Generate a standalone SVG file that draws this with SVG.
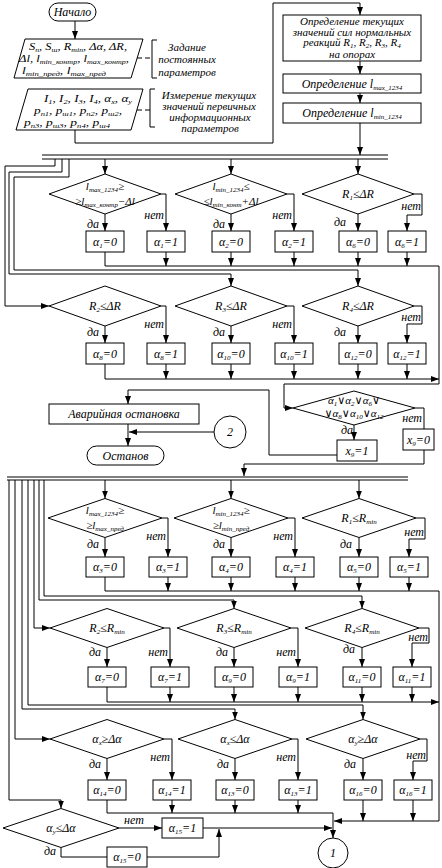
<svg xmlns="http://www.w3.org/2000/svg" width="442" height="868" viewBox="0 0 442 868">
<defs>
<marker id="a" viewBox="0 0 8 6" refX="8" refY="3" markerWidth="8" markerHeight="6" markerUnits="userSpaceOnUse" orient="auto"><path d="M0,0 L8,3 L0,6 z" fill="#000"/></marker>
<style>
.ln{fill:none;stroke:#000;stroke-width:1}
.ar{fill:none;stroke:#000;stroke-width:1;marker-end:url(#a)}
.dl{fill:none;stroke:#000;stroke-width:1;stroke-dasharray:5 3}
.bx{fill:#fff;stroke:#000;stroke-width:1}
text{font-family:"Liberation Serif","DejaVu Serif","Times New Roman",serif;font-style:italic;font-size:12px;fill:#000}
.c{text-anchor:middle}
.e{text-anchor:end}
.s{font-size:7px;baseline-shift:-1.5px}
.m{font-size:11px}
.n{font-size:11px}
</style>
</defs>
<rect width="442" height="868" fill="#fff"/>

<g id="connectors">
<path class="ar" d="M75,21 V39"/>
<path class="ar" d="M75,130 V143 H273 V3 H360 V15"/>
<path class="ar" d="M360,61 V74"/>
<path class="ar" d="M360,93 V103"/>
<path class="ar" d="M360,123 V155"/>
<path class="dl" d="M137,58 H152"/>
<path class="dl" d="M137,110 H150"/>
<path class="ln" d="M42,155 H388 M42,159 H388"/>
<path class="ar" d="M55,159 V166 H5 V306 H49"/>
<path class="ar" d="M62,159 V172 H9 V274 H231 V286"/>
<path class="ar" d="M69,159 V177 H14 V270 H358 V286"/>
<path class="ar" d="M105,159 V174"/>
<path class="ar" d="M231,159 V174"/>
<path class="ar" d="M358,159 V174"/>
<path class="ar" d="M105,214 V231"/>
<path class="ar" d="M161,194 H166 V231"/>
<path class="ar" d="M231,214 V231"/>
<path class="ar" d="M287,194 H294 V231"/>
<path class="ar" d="M358,214 V231"/>
<path class="ar" d="M414,194 H422 V215 H407 V231"/>
<path class="ar" d="M105,252 V266 H439 V384 H284 V408 H293"/>
<path class="ar" d="M166,252 V266"/>
<path class="ar" d="M231,252 V266"/>
<path class="ar" d="M294,252 V266"/>
<path class="ar" d="M358,252 V266"/>
<path class="ar" d="M407,252 V266"/>
<path class="ar" d="M105,326 V343"/>
<path class="ar" d="M161,306 H166 V343"/>
<path class="ar" d="M231,326 V343"/>
<path class="ar" d="M287,306 H294 V343"/>
<path class="ar" d="M358,326 V343"/>
<path class="ar" d="M414,306 H422 V324 H407 V343"/>
<path class="ar" d="M105,364 V379 H439"/>
<path class="ar" d="M166,364 V379"/>
<path class="ar" d="M231,364 V379"/>
<path class="ar" d="M294,364 V379"/>
<path class="ar" d="M358,364 V379"/>
<path class="ar" d="M407,364 V379"/>
<path class="ar" d="M354,425 V440"/>
<path class="ln" d="M415,408 H424 V429"/>
<path class="ar" d="M337,455 H269 V390 H128 V404"/>
<path class="ar" d="M128,424 V446"/>
<path class="ar" d="M214,432 H129"/>
<path class="ar" d="M424,450 V464 H244 V476"/>
<path class="ln" d="M7,477 H408 M7,480 H408"/>
<path class="ar" d="M105,480 V498.5"/>
<path class="ar" d="M231,480 V498.5"/>
<path class="ar" d="M359,480 V498.5"/>
<path class="ar" d="M44,480 V596 H362 V608.5"/>
<path class="ar" d="M39,480 V600 H234 V608.5"/>
<path class="ar" d="M34,480 V628 H50"/>
<path class="ar" d="M28,480 V705 H363 V719.5"/>
<path class="ar" d="M22,480 V709 H235 V719.5"/>
<path class="ar" d="M15,480 V739 H50"/>
<path class="ar" d="M9,480 V800 H61 V808.5"/>
<path class="ar" d="M105,537.5 V557"/>
<path class="ar" d="M162,518 H168 V557"/>
<path class="ar" d="M231,537.5 V557"/>
<path class="ar" d="M288,518 H295 V557"/>
<path class="ar" d="M359,537.5 V557"/>
<path class="ar" d="M416,518 H425 V539 H409 V557"/>
<path class="ar" d="M105,577 V591 H439 V821 H334"/>
<path class="ar" d="M168,577 V591"/>
<path class="ar" d="M231,577 V591"/>
<path class="ar" d="M295,577 V591"/>
<path class="ar" d="M359,577 V591"/>
<path class="ar" d="M409,577 V591"/>
<path class="ar" d="M107,647.5 V667"/>
<path class="ar" d="M164,628 H170 V667"/>
<path class="ar" d="M234,647.5 V667"/>
<path class="ar" d="M291,628 H298 V667"/>
<path class="ar" d="M362,647.5 V667"/>
<path class="ar" d="M419,628 H429 V643 H412 V667"/>
<path class="ar" d="M107,687 V702 H439"/>
<path class="ar" d="M170,687 V702"/>
<path class="ar" d="M234,687 V702"/>
<path class="ar" d="M298,687 V702"/>
<path class="ar" d="M362,687 V702"/>
<path class="ar" d="M412,687 V702"/>
<path class="ar" d="M107,758.5 V780"/>
<path class="ar" d="M164,739 H172 V780"/>
<path class="ar" d="M235,758.5 V780"/>
<path class="ar" d="M292,739 H298 V780"/>
<path class="ar" d="M363,758.5 V780"/>
<path class="ar" d="M420,739 H427 V761 H413 V780"/>
<path class="ar" d="M107,800 V813 H333 V838"/>
<path class="ar" d="M172,800 V813"/>
<path class="ar" d="M235,800 V813"/>
<path class="ar" d="M298,800 V813"/>
<path class="ar" d="M363,800 V821"/>
<path class="ar" d="M413,800 V821"/>
<path class="ar" d="M119,828 H162"/>
<path class="ln" d="M61,847.5 V857 H107"/>
<path class="ar" d="M203,828 H332"/>
<path class="ar" d="M147,857 H219 V829"/>
<text class="e" x="99" y="228">да</text><text class="e" x="225" y="228">да</text><text class="e" x="346" y="226">да</text>
<text class="e" x="164" y="219">нет</text><text class="e" x="292" y="219">нет</text><text class="e" x="421" y="210">нет</text>
<text class="e" x="99" y="336">да</text><text class="e" x="225" y="336">да</text><text class="e" x="346" y="336">да</text>
<text class="e" x="164" y="328">нет</text><text class="e" x="292" y="328">нет</text><text class="e" x="421" y="321">нет</text>
<text class="e" x="353" y="434">да</text><text class="e" x="422" y="422">нет</text>
<text class="e" x="99" y="548">да</text><text class="e" x="225" y="548">да</text><text class="e" x="352" y="548">да</text>
<text class="e" x="166" y="540">нет</text><text class="e" x="293" y="540">нет</text><text class="e" x="424" y="536">нет</text>
<text class="e" x="101" y="656">да</text><text class="e" x="228" y="656">да</text><text class="e" x="355" y="653">да</text>
<text class="e" x="168" y="656">нет</text><text class="e" x="296" y="656">нет</text><text class="e" x="428" y="641">нет</text>
<text class="e" x="101" y="768">да</text><text class="e" x="229" y="768">да</text><text class="e" x="356" y="768">да</text>
<text class="e" x="170" y="761">нет</text><text class="e" x="296" y="761">нет</text><text class="e" x="426" y="759">нет</text>
<text class="c" x="134" y="824">нет</text><text class="c" x="50" y="855">да</text>
</g>

<g id="start"><rect class="bx" x="49" y="3" width="47" height="18" rx="9"/><text class="c" x="72.5" y="16">Начало</text></g>
<g id="input-constants"><polygon class="bx" points="25,39 143,39 131,78 14,78"/>
<text class="c n" x="78" y="50" textLength="98" lengthAdjust="spacingAndGlyphs">S<tspan class="s">п</tspan>, S<tspan class="s">ш</tspan>, R<tspan class="s">min</tspan>, Δα, ΔR,</text>
<text class="c n" x="74" y="62" textLength="110" lengthAdjust="spacingAndGlyphs">Δl, l<tspan class="s">min_контр</tspan>, l<tspan class="s">max_контр</tspan>,</text>
<text class="c n" x="64" y="74" textLength="84" lengthAdjust="spacingAndGlyphs">l<tspan class="s">min_пред</tspan>, l<tspan class="s">max_пред</tspan></text></g>
<g id="note-constants"><path class="ln" d="M157,40 H152 V78 H157"/><text class="c n" x="187" y="50.5">Задание</text><text class="c n" x="187" y="63">постоянных</text><text class="c n" x="187" y="75.5">параметров</text></g>
<g id="input-measure"><polygon class="bx" points="28,89 143,89 131,130 16,130"/>
<text class="c n" x="88" y="102" textLength="88" lengthAdjust="spacingAndGlyphs">I<tspan class="s">1</tspan>, I<tspan class="s">2</tspan>, I<tspan class="s">3</tspan>, I<tspan class="s">4</tspan>, α<tspan class="s">x</tspan>, α<tspan class="s">y</tspan></text>
<text class="c n" x="78" y="114" textLength="88" lengthAdjust="spacingAndGlyphs">p<tspan class="s">п1</tspan>, p<tspan class="s">ш1</tspan>, p<tspan class="s">п2</tspan>, p<tspan class="s">ш2</tspan>,</text>
<text class="c n" x="67" y="126" textLength="86" lengthAdjust="spacingAndGlyphs">p<tspan class="s">п3</tspan>, p<tspan class="s">ш3</tspan>, p<tspan class="s">п4</tspan>, p<tspan class="s">ш4</tspan></text></g>
<g id="note-measure"><path class="ln" d="M155,89 H150 V127 H155"/><text class="c n" x="209" y="99">Измерение текущих</text><text class="c n" x="209" y="110">значений первичных</text><text class="c n" x="210" y="121">информационных</text><text class="c n" x="210" y="132">параметров</text></g>
<g id="calc-reactions"><rect class="bx" x="283" y="15" width="138" height="46"/>
<text class="c n" x="352" y="25">Определение текущих</text><text class="c n" x="352" y="35.5">значений сил нормальных</text>
<text class="c n" x="352" y="46">реакций R<tspan class="s">1</tspan>, R<tspan class="s">2</tspan>, R<tspan class="s">3</tspan>, R<tspan class="s">4</tspan></text><text class="c n" x="352" y="58">на опорах</text></g>
<g id="calc-lmax"><rect class="bx" x="283" y="74" width="138" height="19"/><text class="c" x="352" y="87.5">Определение l<tspan class="s">max_1234</tspan></text></g>
<g id="calc-lmin"><rect class="bx" x="283" y="103" width="138" height="20"/><text class="c" x="352" y="117">Определение l<tspan class="s">min_1234</tspan></text></g>

<g id="d-lmax-kontr"><polygon class="bx" points="49,194 105,174 161,194 105,214"/><text class="c m" x="105" y="190">l<tspan class="s">max_1234</tspan>≥</text><text class="c m" x="105" y="205">≥l<tspan class="s">max_контр</tspan>−Δl</text></g>
<g id="d-lmin-kontr"><polygon class="bx" points="175,194 231,174 287,194 231,214"/><text class="c m" x="231" y="190">l<tspan class="s">min_1234</tspan>≤</text><text class="c m" x="231" y="205">≤l<tspan class="s">min_конт</tspan>+Δl</text></g>
<g id="d-r1-dr"><polygon class="bx" points="302,194 358,174 414,194 358,214"/><text class="c" x="358" y="198">R<tspan class="s">1</tspan>≤ΔR</text></g>
<g id="b-a1-0"><rect class="bx" x="86" y="231" width="38" height="21"/><text class="c" x="105" y="245.5">α<tspan class="s">1</tspan>=0</text></g>
<g id="b-a1-1"><rect class="bx" x="147" y="231" width="38" height="21"/><text class="c" x="166" y="245.5">α<tspan class="s">1</tspan>=1</text></g>
<g id="b-a2-0"><rect class="bx" x="212" y="231" width="38" height="21"/><text class="c" x="231" y="245.5">α<tspan class="s">2</tspan>=0</text></g>
<g id="b-a2-1"><rect class="bx" x="275" y="231" width="38" height="21"/><text class="c" x="294" y="245.5">α<tspan class="s">2</tspan>=1</text></g>
<g id="b-a6-0"><rect class="bx" x="339" y="231" width="38" height="21"/><text class="c" x="358" y="245.5">α<tspan class="s">6</tspan>=0</text></g>
<g id="b-a6-1"><rect class="bx" x="388" y="231" width="38" height="21"/><text class="c" x="407" y="245.5">α<tspan class="s">6</tspan>=1</text></g>

<g id="d-r2-dr"><polygon class="bx" points="49,306 105,286 161,306 105,326"/><text class="c" x="105" y="310">R<tspan class="s">2</tspan>≤ΔR</text></g>
<g id="d-r3-dr"><polygon class="bx" points="175,306 231,286 287,306 231,326"/><text class="c" x="231" y="310">R<tspan class="s">3</tspan>≤ΔR</text></g>
<g id="d-r4-dr"><polygon class="bx" points="302,306 358,286 414,306 358,326"/><text class="c" x="358" y="310">R<tspan class="s">4</tspan>≤ΔR</text></g>
<g id="b-a8-0"><rect class="bx" x="86" y="343" width="38" height="21"/><text class="c" x="105" y="357.5">α<tspan class="s">8</tspan>=0</text></g>
<g id="b-a8-1"><rect class="bx" x="147" y="343" width="38" height="21"/><text class="c" x="166" y="357.5">α<tspan class="s">8</tspan>=1</text></g>
<g id="b-a10-0"><rect class="bx" x="212" y="343" width="38" height="21"/><text class="c" x="231" y="357.5">α<tspan class="s">10</tspan>=0</text></g>
<g id="b-a10-1"><rect class="bx" x="275" y="343" width="38" height="21"/><text class="c" x="294" y="357.5">α<tspan class="s">10</tspan>=1</text></g>
<g id="b-a12-0"><rect class="bx" x="339" y="343" width="38" height="21"/><text class="c" x="358" y="357.5">α<tspan class="s">12</tspan>=0</text></g>
<g id="b-a12-1"><rect class="bx" x="388" y="343" width="38" height="21"/><text class="c" x="407" y="357.5">α<tspan class="s">12</tspan>=1</text></g>

<g id="d-or"><polygon class="bx" points="293,408 354,391 415,408 354,425"/><text class="c m" x="354" y="403.5">α<tspan class="s">1</tspan>∨α<tspan class="s">2</tspan>∨α<tspan class="s">6</tspan>∨</text><text class="c m" x="354" y="416.5">∨α<tspan class="s">8</tspan>∨α<tspan class="s">10</tspan>∨α<tspan class="s">12</tspan></text></g>
<g id="b-x9-1"><rect class="bx" x="337" y="440" width="40" height="21"/><text class="c" x="357" y="454.5">x<tspan class="s">9</tspan>=1</text></g>
<g id="b-x9-0"><rect class="bx" x="403" y="429" width="31" height="21"/><text class="c" x="418.5" y="443.5">x<tspan class="s">9</tspan>=0</text></g>
<g id="alarm-stop"><rect class="bx" x="49" y="404" width="150" height="20"/><text class="c" x="124" y="418">Аварийная остановка</text></g>
<g id="connector-2"><circle class="bx" cx="230" cy="432" r="16"/><text class="c" x="230" y="436">2</text></g>
<g id="stop"><rect class="bx" x="87" y="446" width="77" height="19" rx="9.5"/><text class="c" x="125.5" y="460">Останов</text></g>

<g id="d-lmax-pred"><polygon class="bx" points="48,518 105,498.5 162,518 105,537.5"/><text class="c m" x="105" y="514">l<tspan class="s">max_1234</tspan>≥</text><text class="c m" x="105" y="529">≥l<tspan class="s">max_пред</tspan></text></g>
<g id="d-lmin-pred"><polygon class="bx" points="174,518 231,498.5 288,518 231,537.5"/><text class="c m" x="231" y="514">l<tspan class="s">min_1234</tspan>≥</text><text class="c m" x="231" y="529">≥l<tspan class="s">min_пред</tspan></text></g>
<g id="d-r1-rmin"><polygon class="bx" points="302,518 359,498.5 416,518 359,537.5"/><text class="c" x="359" y="522">R<tspan class="s">1</tspan>≤R<tspan class="s">min</tspan></text></g>
<g id="b-a3-0"><rect class="bx" x="86" y="557" width="38" height="20"/><text class="c" x="105" y="571">α<tspan class="s">3</tspan>=0</text></g>
<g id="b-a3-1"><rect class="bx" x="149" y="557" width="38" height="20"/><text class="c" x="168" y="571">α<tspan class="s">3</tspan>=1</text></g>
<g id="b-a4-0"><rect class="bx" x="212" y="557" width="38" height="20"/><text class="c" x="231" y="571">α<tspan class="s">4</tspan>=0</text></g>
<g id="b-a4-1"><rect class="bx" x="276" y="557" width="38" height="20"/><text class="c" x="295" y="571">α<tspan class="s">4</tspan>=1</text></g>
<g id="b-a5-0"><rect class="bx" x="340" y="557" width="38" height="20"/><text class="c" x="359" y="571">α<tspan class="s">5</tspan>=0</text></g>
<g id="b-a5-1"><rect class="bx" x="390" y="557" width="38" height="20"/><text class="c" x="409" y="571">α<tspan class="s">5</tspan>=1</text></g>

<g id="d-r2-rmin"><polygon class="bx" points="50,628 107,608.5 164,628 107,647.5"/><text class="c" x="107" y="632">R<tspan class="s">2</tspan>≤R<tspan class="s">min</tspan></text></g>
<g id="d-r3-rmin"><polygon class="bx" points="177,628 234,608.5 291,628 234,647.5"/><text class="c" x="234" y="632">R<tspan class="s">3</tspan>≤R<tspan class="s">min</tspan></text></g>
<g id="d-r4-rmin"><polygon class="bx" points="305,628 362,608.5 419,628 362,647.5"/><text class="c" x="362" y="632">R<tspan class="s">4</tspan>≤R<tspan class="s">min</tspan></text></g>
<g id="b-a7-0"><rect class="bx" x="88" y="667" width="38" height="20"/><text class="c" x="107" y="681">α<tspan class="s">7</tspan>=0</text></g>
<g id="b-a7-1"><rect class="bx" x="151" y="667" width="38" height="20"/><text class="c" x="170" y="681">α<tspan class="s">7</tspan>=1</text></g>
<g id="b-a9-0"><rect class="bx" x="215" y="667" width="38" height="20"/><text class="c" x="234" y="681">α<tspan class="s">9</tspan>=0</text></g>
<g id="b-a9-1"><rect class="bx" x="279" y="667" width="38" height="20"/><text class="c" x="298" y="681">α<tspan class="s">9</tspan>=1</text></g>
<g id="b-a11-0"><rect class="bx" x="343" y="667" width="38" height="20"/><text class="c" x="362" y="681">α<tspan class="s">11</tspan>=0</text></g>
<g id="b-a11-1"><rect class="bx" x="393" y="667" width="38" height="20"/><text class="c" x="412" y="681">α<tspan class="s">11</tspan>=1</text></g>

<g id="d-ax-ge"><polygon class="bx" points="50,739 107,719.5 164,739 107,758.5"/><text class="c" x="107" y="743">α<tspan class="s">x</tspan>≥Δα</text></g>
<g id="d-ax-le"><polygon class="bx" points="178,739 235,719.5 292,739 235,758.5"/><text class="c" x="235" y="743">α<tspan class="s">x</tspan>≤Δα</text></g>
<g id="d-ay-ge"><polygon class="bx" points="306,739 363,719.5 420,739 363,758.5"/><text class="c" x="363" y="743">α<tspan class="s">y</tspan>≥Δα</text></g>
<g id="b-a14-0"><rect class="bx" x="88" y="780" width="38" height="20"/><text class="c" x="107" y="794">α<tspan class="s">14</tspan>=0</text></g>
<g id="b-a14-1"><rect class="bx" x="153" y="780" width="38" height="20"/><text class="c" x="172" y="794">α<tspan class="s">14</tspan>=1</text></g>
<g id="b-a13-0"><rect class="bx" x="216" y="780" width="38" height="20"/><text class="c" x="235" y="794">α<tspan class="s">13</tspan>=0</text></g>
<g id="b-a13-1"><rect class="bx" x="279" y="780" width="38" height="20"/><text class="c" x="298" y="794">α<tspan class="s">13</tspan>=1</text></g>
<g id="b-a16-0"><rect class="bx" x="344" y="780" width="38" height="20"/><text class="c" x="363" y="794">α<tspan class="s">16</tspan>=0</text></g>
<g id="b-a16-1"><rect class="bx" x="394" y="780" width="38" height="20"/><text class="c" x="413" y="794">α<tspan class="s">16</tspan>=1</text></g>

<g id="d-ay-le"><polygon class="bx" points="3,828 61,808.5 119,828 61,847.5"/><text class="c" x="61" y="832">α<tspan class="s">y</tspan>≤Δα</text></g>
<g id="b-a15-1"><rect class="bx" x="162" y="818" width="41" height="20"/><text class="c" x="182.5" y="832">α<tspan class="s">15</tspan>=1</text></g>
<g id="b-a15-0"><rect class="bx" x="107" y="847" width="40" height="20"/><text class="c" x="127" y="861">α<tspan class="s">15</tspan>=0</text></g>
<g id="connector-1"><circle class="bx" cx="333" cy="853" r="15"/><text class="c" x="333" y="857">1</text></g>
</svg>
